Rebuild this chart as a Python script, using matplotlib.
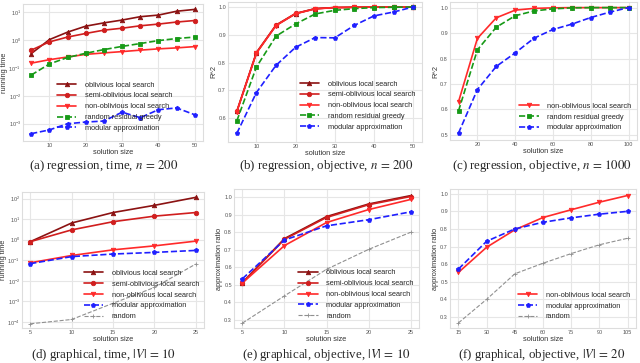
import numpy as np
import matplotlib
matplotlib.use('Agg')
from matplotlib import pyplot as plt
import seaborn as sns

sns.set_style('whitegrid')
plt.rcParams['font.family'] = ['Liberation Sans', 'DejaVu Sans']
plt.rcParams['mathtext.fontset'] = 'stix'

# (a) regression, time, n = 200
a_x = [5, 10, 15, 20, 25, 30, 35, 40, 45, 50]
a_obl = [0.33, 1.05, 1.95, 3.2, 4.2, 5.3, 7.0, 8.0, 11.0, 12.8]
a_semi = [0.44, 0.87, 1.3, 1.75, 2.3, 2.7, 3.3, 3.8, 4.5, 5.1]
a_non = [0.15, 0.2, 0.25, 0.31, 0.35, 0.39, 0.44, 0.49, 0.53, 0.59]
a_rrg = [0.056, 0.14, 0.24, 0.34, 0.46, 0.6, 0.76, 0.97, 1.15, 1.3]
a_mod = [4.4e-4, 6e-4, 1.0e-3, 1.15e-3, 1.25e-3, 2.6e-3, 1.65e-3, 3.2e-3, 3.7e-3, 2.1e-3]

# (b) regression, objective, n = 200
b_x = [5, 10, 15, 20, 25, 30, 35, 40, 45, 50]
b_obl = [0.624, 0.835, 0.934, 0.976, 0.994, 0.998, 0.999, 1.0, 1.0, 1.0]
b_semi = [0.624, 0.836, 0.935, 0.977, 0.994, 0.998, 0.999, 1.0, 1.0, 1.0]
b_non = [0.623, 0.834, 0.933, 0.976, 0.993, 0.998, 0.999, 1.0, 1.0, 1.0]
b_rrg = [0.59, 0.784, 0.895, 0.939, 0.975, 0.988, 0.994, 0.998, 0.999, 1.0]
b_mod = [0.545, 0.692, 0.79, 0.855, 0.89, 0.889, 0.934, 0.968, 0.982, 1.0]

# (c) regression, objective, n = 1000
c_x = [10, 20, 30, 40, 50, 60, 70, 80, 90, 100]
c_non = [0.63, 0.879, 0.96, 0.99, 0.997, 0.999, 1.0, 1.0, 1.0, 1.0]
c_rrg = [0.594, 0.834, 0.923, 0.968, 0.987, 0.995, 0.999, 1.0, 1.0, 1.0]
c_mod = [0.507, 0.678, 0.769, 0.822, 0.88, 0.914, 0.935, 0.961, 0.982, 1.0]

# (d) graphical, time, |V| = 10
d_x = [5, 10, 15, 20, 25]
d_obl = [0.8, 6.5, 21, 47, 115]
d_semi = [0.8, 3.0, 7.5, 14, 21]
d_non = [0.075, 0.17, 0.32, 0.5, 0.85]
d_mod = [0.068, 0.15, 0.2, 0.24, 0.3]
d_rnd = [8e-5, 1.3e-4, 8e-4, 4.7e-3, 0.065]

# (e) graphical, objective, |V| = 10
e_x = [5, 10, 15, 20, 25]
e_obl = [0.512, 0.764, 0.89, 0.962, 1.01]
e_semi = [0.51, 0.76, 0.885, 0.958, 1.005]
e_non = [0.51, 0.724, 0.856, 0.93, 0.988]
e_mod = [0.534, 0.756, 0.837, 0.872, 0.917]
e_rnd = [0.28, 0.436, 0.588, 0.702, 0.80]

# (f) graphical, objective, |V| = 20
f_x = [15, 30, 45, 60, 75, 90, 105]
f_non = [0.553, 0.696, 0.795, 0.865, 0.909, 0.952, 0.99]
f_mod = [0.572, 0.73, 0.8, 0.838, 0.863, 0.884, 0.9]
f_rnd = [0.266, 0.40, 0.545, 0.605, 0.66, 0.71, 0.747]

styles = {
    'oblivious local search': dict(color='#8b1212', marker='^', ls='-'),
    'semi-oblivious local search': dict(color='#d01e1e', marker='o', ls='-'),
    'non-oblivious local search': dict(color='#ff2a2a', marker='v', ls='-'),
    'random residual greedy': dict(color='#179a17', marker='s', ls='--'),
    'modular approximation': dict(color='#1f1fff', marker='p', ls='--'),
    'random': dict(color='#909090', marker='+', ls='--', lw=0.8),
}

fig = plt.figure(figsize=(6.4, 3.63), dpi=100)
W, H = 640.0, 363.0


def make_ax(l, t, r, b):
    return fig.add_axes([l / W, 1 - b / H, (r - l) / W, (b - t) / H])


def draw(ax, x, series, ylabel, xticks, legpos, ylim, log=False, caption='', cap_xy=(0, 0)):
    for name, y in series:
        st = dict(styles[name])
        lw = st.pop('lw', 1.2)
        ax.plot(x, y, label=name, lw=lw, ms=3.2, mew=0.6, **st)
    if log:
        ax.set_yscale('log')
        ax.minorticks_off()
    ax.set_ylim(*ylim)
    ax.set_xticks(xticks)
    ax.tick_params(labelsize=4, colors='#555555', pad=1.5, length=0)
    ax.set_xlabel('solution size', fontsize=5.3, color='#333333', labelpad=1)
    ax.set_ylabel(ylabel, fontsize=5.3, color='#333333', labelpad=0.5)
    ax.grid(True, color='#e6e6e6', lw=0.8)
    for s in ax.spines.values():
        s.set_color('#dddddd')
        s.set_linewidth(0.8)
    ax.legend(loc='center', bbox_to_anchor=legpos, frameon=False, fontsize=5.3,
              handlelength=2.6, handletextpad=1.2, labelspacing=0.5, borderpad=0,
              borderaxespad=0, numpoints=1)
    fig.text(cap_xy[0] / W, 1 - cap_xy[1] / H, caption, ha='center', va='center',
             fontsize=9.3, family='Liberation Serif')


ax = make_ax(23, 4, 203, 141)
draw(ax, a_x, [('oblivious local search', a_obl), ('semi-oblivious local search', a_semi),
               ('non-oblivious local search', a_non), ('random residual greedy', a_rrg),
               ('modular approximation', a_mod)],
     'running time', [10, 20, 30, 40, 50], (0.51, 0.25), (2.4e-4, 20), log=True,
     caption='(a) regression, time, $n\\,=\\,200$', cap_xy=(104, 166))
ax.set_yticks([1e-3, 1e-2, 1e-1, 1e0, 1e1])

ax = make_ax(228, 2, 422, 142)
draw(ax, b_x, [('oblivious local search', b_obl), ('semi-oblivious local search', b_semi),
               ('non-oblivious local search', b_non), ('random residual greedy', b_rrg),
               ('modular approximation', b_mod)],
     'R^2', [10, 20, 30, 40, 50], (0.667, 0.26), (0.514, 1.018),
     caption='(b) regression, objective, $n\\,=\\,200$', cap_xy=(326, 166))
ax.set_yticks([0.6, 0.7, 0.8, 0.9, 1.0])

ax = make_ax(450, 2, 637, 140)
draw(ax, c_x, [('non-oblivious local search', c_non), ('random residual greedy', c_rrg),
               ('modular approximation', c_mod)],
     'R^2', [20, 40, 60, 80, 100], (0.671, 0.167), (0.48, 1.022),
     caption='(c) regression, objective, $n\\,=\\,1000$', cap_xy=(542, 166))
ax.set_yticks([0.5, 0.6, 0.7, 0.8, 0.9, 1.0])

ax = make_ax(22, 192, 204, 328)
draw(ax, d_x, [('oblivious local search', d_obl), ('semi-oblivious local search', d_semi),
               ('non-oblivious local search', d_non), ('modular approximation', d_mod),
               ('random', d_rnd)],
     'running time', [5, 10, 15, 20, 25], (0.656, 0.243), (5e-5, 210), log=True,
     caption='(d) graphical, time, $|V|\\,=\\,10$', cap_xy=(104, 355))
ax.set_yticks([1e-4, 1e-3, 1e-2, 1e-1, 1e0, 1e1, 1e2])

ax = make_ax(234, 189, 419, 328)
draw(ax, e_x, [('oblivious local search', e_obl), ('semi-oblivious local search', e_semi),
               ('non-oblivious local search', e_non), ('modular approximation', e_mod),
               ('random', e_rnd)],
     'approximation ratio', [5, 10, 15, 20, 25], (0.66, 0.241), (0.252, 1.048),
     caption='(e) graphical, objective, $|V|\\,=\\,10$', cap_xy=(326, 355))
ax.set_yticks([0.3, 0.4, 0.5, 0.6, 0.7, 0.8, 0.9, 1.0])

ax = make_ax(450, 189, 636, 328)
draw(ax, f_x, [('non-oblivious local search', f_non), ('modular approximation', f_mod),
               ('random', f_rnd)],
     'approximation ratio', [15, 30, 45, 60, 75, 90, 105], (0.667, 0.158), (0.237, 1.027),
     caption='(f) graphical, objective, $|V|\\,=\\,20$', cap_xy=(542, 355))
ax.set_yticks([0.3, 0.4, 0.5, 0.6, 0.7, 0.8, 0.9, 1.0])

fig.savefig('out.png', dpi=100)
